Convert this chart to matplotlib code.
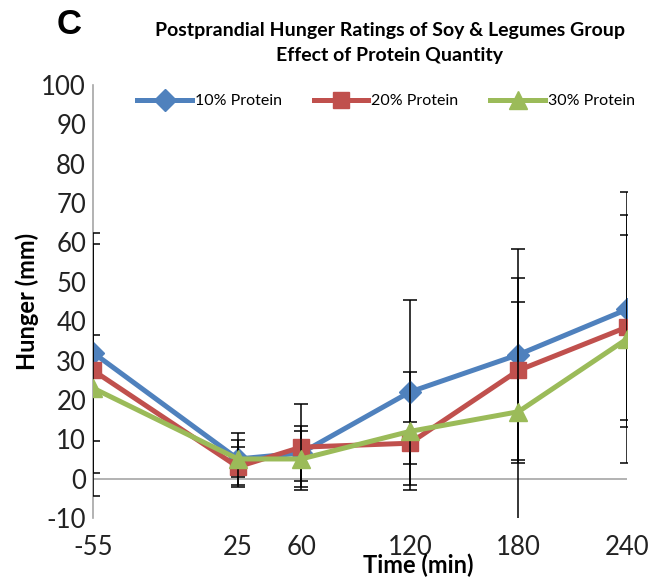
"""
Postprandial hunger ratings, soy & legumes group, by protein quantity.
"""

import matplotlib.pyplot as plt

time_min = [-55, 25, 60, 120, 180, 240]

hunger_10 = [32, 5, 6.5, 22, 31.5, 43]
hunger_20 = [27.5, 3, 8, 9, 27.5, 38.5]
hunger_30 = [23, 5, 5, 12, 17, 35.5]

err_10 = [30.5, 6.5, 7, 23.5, 26.8, 29.8]
err_20 = [32, 5, 11, 5.4, 23.5, 23.5]
err_30 = [13.5, 4.7, 7, 15, 28, 31.5]

series_labels = ["10% Protein", "20% Protein", "30% Protein"]
colors = ["#4F81BD", "#C0504D", "#9BBB59"]
markers = ["D", "s", "^"]
marker_sizes = [11, 12, 13]

y_ticks = list(range(-10, 101, 10))


def main() -> None:
    plt.rcParams["font.family"] = ["Lato", "DejaVu Sans"]
    plt.rcParams["axes.unicode_minus"] = False

    fig = plt.figure(figsize=(6.63, 5.81), dpi=100)
    ax = fig.add_axes([0.1403, 0.1084, 0.8054, 0.7453])

    series = [
        (hunger_10, err_10),
        (hunger_20, err_20),
        (hunger_30, err_30),
    ]
    for i, (vals, errs) in enumerate(series):
        ax.errorbar(
            time_min, vals, yerr=errs, fmt="none", ecolor="black",
            elinewidth=1.1, capsize=5, capthick=1.1, zorder=3 + 2 * i,
        )
        ax.plot(
            time_min, vals, color=colors[i], marker=markers[i],
            markersize=marker_sizes[i], linewidth=3.6,
            label=series_labels[i], zorder=4 + 2 * i,
        )

    ax.axhline(0, color="#A6A6A6", linewidth=1.2, zorder=1)
    ax.set_xlim(-55, 240)
    ax.set_ylim(-10, 100)
    ax.set_yticks(y_ticks)
    ax.set_xticks(time_min)
    ax.tick_params(length=0, labelsize=18.5, colors="#222222")
    ax.tick_params(axis="y", pad=5)
    ax.tick_params(axis="x", pad=12)

    for side in ["top", "right", "bottom"]:
        ax.spines[side].set_visible(False)
    ax.spines["left"].set_color("#A6A6A6")
    ax.spines["left"].set_linewidth(1.2)

    ax.set_ylabel("Hunger (mm)", fontsize=17, fontweight="bold", labelpad=2)
    # the axis title sits right of centre, just under the tick labels
    ax.set_xlabel("Time (min)", fontsize=17, fontweight="bold")
    ax.xaxis.set_label_coords(0.61, -0.082)

    ax.legend(
        loc="upper center", bbox_to_anchor=(0.549, 1.012), ncol=3,
        frameon=False, fontsize=11.5, handlelength=3.4, handletextpad=0.2,
        columnspacing=2.0,
    )

    fig.text(0.588, 0.947, "Postprandial Hunger Ratings of Soy & Legumes Group",
             ha="center", va="center", fontsize=14, fontweight="bold")
    fig.text(0.588, 0.905, "Effect of Protein Quantity",
             ha="center", va="center", fontsize=14, fontweight="bold")
    fig.text(0.104, 0.957, "C", ha="center", va="center",
             fontsize=25, fontweight="bold", family="Liberation Sans")

    fig.savefig("out.png", dpi=100)
    plt.close(fig)


if __name__ == "__main__":
    main()
